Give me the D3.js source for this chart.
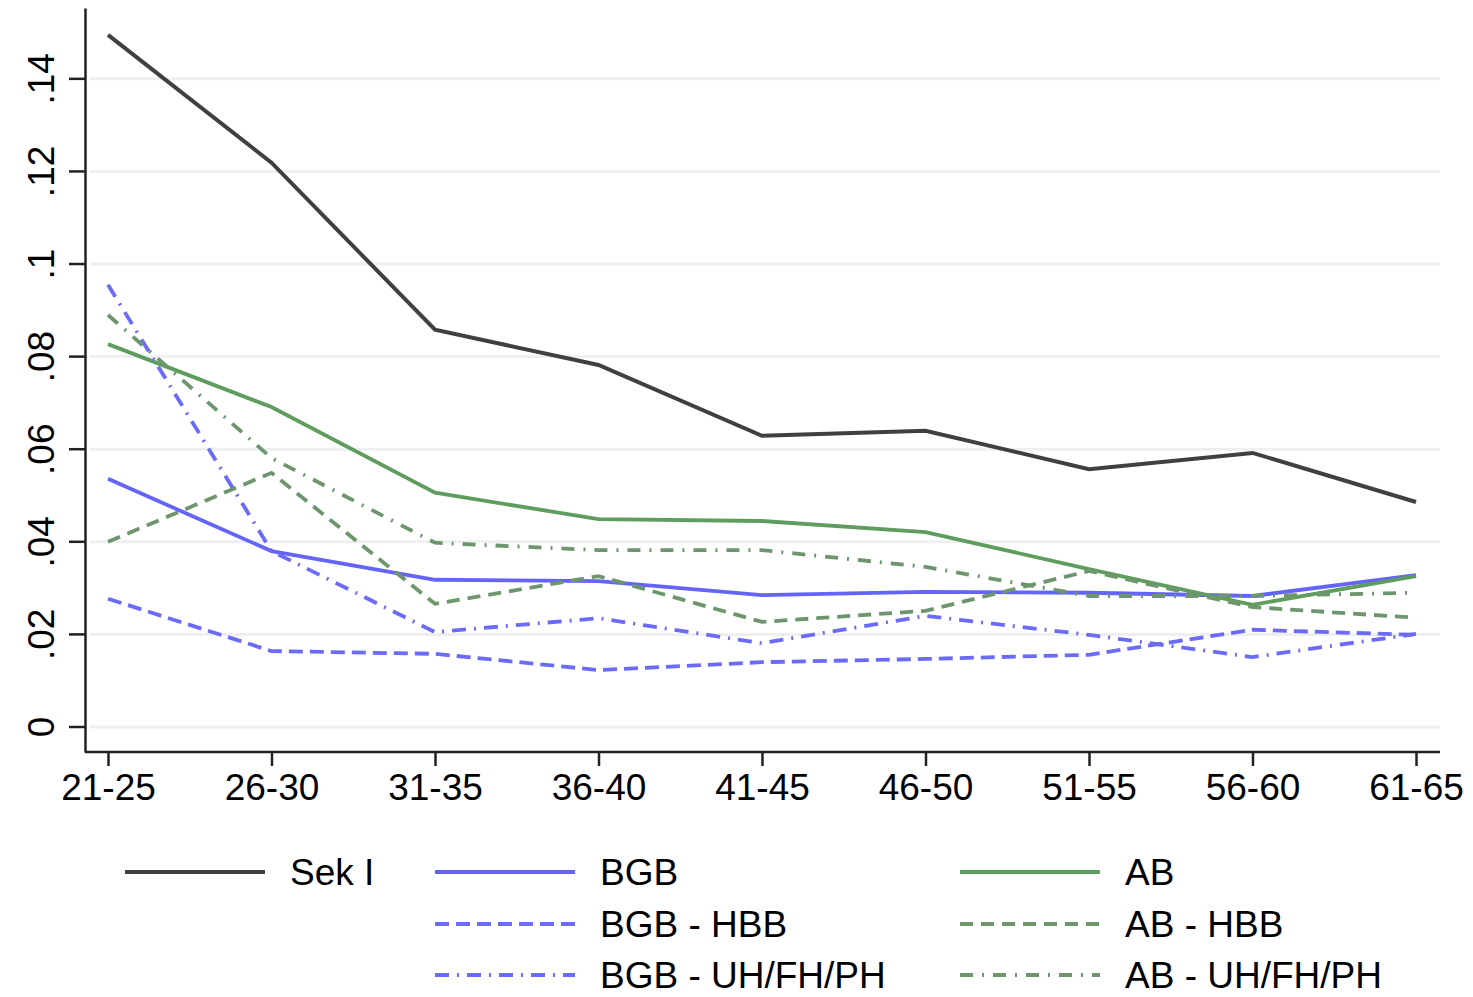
<!DOCTYPE html>
<html>
<head>
<meta charset="utf-8">
<script src="https://cdn.jsdelivr.net/npm/d3@7"></script>
<style>
  body { margin: 0; background: #fff; }
  text { font-family: "Liberation Sans", Arial, sans-serif; fill: #000; }
  .grid line { stroke: #efefef; stroke-width: 3; }
  .axis path, .axis line { stroke: #222; stroke-width: 2.5; }
</style>
</head>
<body>
<script>
// age groups on the x axis
var ageGroups = ["21-25", "26-30", "31-35", "36-40", "41-45", "46-50", "51-55", "56-60", "61-65"];
// y tick values and labels
var yTicks = [0, 0.02, 0.04, 0.06, 0.08, 0.1, 0.12, 0.14];
var yTickLabels = ["0", ".02", ".04", ".06", ".08", ".1", ".12", ".14"];

// series values
var sekI      = [0.1495, 0.1219, 0.0858, 0.0782, 0.0629, 0.0640, 0.0557, 0.0592, 0.0486];
var bgb       = [0.0536, 0.0380, 0.0318, 0.0315, 0.0285, 0.0292, 0.0290, 0.0283, 0.0328];
var ab        = [0.0827, 0.0691, 0.0506, 0.0449, 0.0445, 0.0421, 0.0341, 0.0264, 0.0326];
var bgbHbb    = [0.0277, 0.0164, 0.0158, 0.0123, 0.0140, 0.0147, 0.0156, 0.0210, 0.0199];
var bgbUh     = [0.0955, 0.0380, 0.0205, 0.0235, 0.0181, 0.0240, 0.0199, 0.0151, 0.0201];
var abHbb     = [0.0400, 0.0549, 0.0266, 0.0326, 0.0227, 0.0251, 0.0337, 0.0259, 0.0236];
var abUh      = [0.0890, 0.0581, 0.0398, 0.0382, 0.0382, 0.0346, 0.0283, 0.0283, 0.0290];

// series names
var seriesNames = ["Sek I", "BGB", "AB", "BGB - HBB", "AB - HBB", "BGB - UH/FH/PH", "AB - UH/FH/PH"];

(function(){
  var width = 1473,
      height = 997;

  var svg = d3.select("body")
    .append("svg")
    .attr("width", width)
    .attr("height", height);

  // *************************************************** //
  // scales
  var x = d3.scalePoint()
    .domain(ageGroups)
    .range([108, 1416]);

  var y = d3.scaleLinear()
    .domain([-0.0054, 0.1553])
    .range([752, 8]);

  // line styles for each series
  var series = [
    {name: seriesNames[0], values: sekI,   color: "#404040", width: 4, dash: null},
    {name: seriesNames[1], values: bgb,    color: "#6464f8", width: 3.8, dash: null},
    {name: seriesNames[2], values: ab,     color: "#5f9d5f", width: 3.8, dash: null},
    {name: seriesNames[3], values: bgbHbb, color: "#6b6bf7", width: 3.8, dash: "14,7"},
    {name: seriesNames[4], values: abHbb,  color: "#6e966e", width: 3.8, dash: "13,8"},
    {name: seriesNames[5], values: bgbUh,  color: "#6b6bf7", width: 3.8, dash: "14,8,2,8"},
    {name: seriesNames[6], values: abUh,   color: "#6e966e", width: 3.8, dash: "13,9,2,9"}
  ];

  // *************************************************** //
  // grid lines
  svg.append("g")
    .attr("class", "grid")
    .selectAll("line")
    .data(yTicks)
    .enter()
    .append("line")
    .attr("x1", 90)
    .attr("x2", 1440)
    .attr("y1", function(d){ return y(d); })
    .attr("y2", function(d){ return y(d); });

  // y axis
  var yAxis = svg.append("g")
    .attr("class", "axis")
    .attr("transform", "translate(85,0)")
    .call(d3.axisLeft(y)
      .tickValues(yTicks)
      .tickFormat(function(d, i){ return yTickLabels[i]; })
      .tickSize(16)
      .tickSizeOuter(0));

  yAxis.selectAll("text")
    .attr("font-size", 37)
    .attr("text-anchor", "middle")
    .attr("x", 0)
    .attr("dy", 0)
    .attr("transform", function(d){ return "translate(-31," + y(d) + ") rotate(-90)"; })
    .attr("y", 0);
  yAxis.selectAll(".tick").attr("transform", null);
  yAxis.selectAll(".tick line")
    .attr("y1", function(d){ return y(d); })
    .attr("y2", function(d){ return y(d); });

  // x axis
  var xAxis = svg.append("g")
    .attr("class", "axis")
    .attr("transform", "translate(0,752)")
    .call(d3.axisBottom(x)
      .tickSize(14)
      .tickSizeOuter(0));

  xAxis.select(".domain").attr("d", "M85,0H1440");
  xAxis.selectAll("text")
    .attr("font-size", 37)
    .attr("y", 22)
    .attr("dy", "0.71em");

  // *************************************************** //
  // lines
  var line = d3.line()
    .x(function(d, i){ return x(ageGroups[i]); })
    .y(function(d){ return y(d); });

  svg.append("g")
    .selectAll("path")
    .data(series)
    .enter()
    .append("path")
    .attr("fill", "none")
    .attr("stroke", function(d){ return d.color; })
    .attr("stroke-width", function(d){ return d.width; })
    .attr("stroke-dasharray", function(d){ return d.dash; })
    .attr("d", function(d){ return line(d.values); });

  // *************************************************** //
  // legend: three columns, three rows
  var legendPos = [
    {col: 0, row: 0}, {col: 1, row: 0}, {col: 2, row: 0},
    {col: 1, row: 1}, {col: 2, row: 1},
    {col: 1, row: 2}, {col: 2, row: 2}
  ];
  var colX = [125, 435, 960],
      rowY = [872, 924, 975];

  var legend = svg.append("g")
    .selectAll("g")
    .data(series)
    .enter()
    .append("g")
    .attr("transform", function(d, i){
      return "translate(" + colX[legendPos[i].col] + "," + rowY[legendPos[i].row] + ")";
    });

  legend.append("line")
    .attr("x1", 0)
    .attr("x2", 140)
    .attr("stroke", function(d){ return d.color; })
    .attr("stroke-width", function(d){ return d.width; })
    .attr("stroke-dasharray", function(d){ return d.dash; });

  legend.append("text")
    .attr("x", 165)
    .attr("dy", "0.36em")
    .attr("font-size", 37)
    .text(function(d){ return d.name; });
})();
</script>
</body>
</html>
